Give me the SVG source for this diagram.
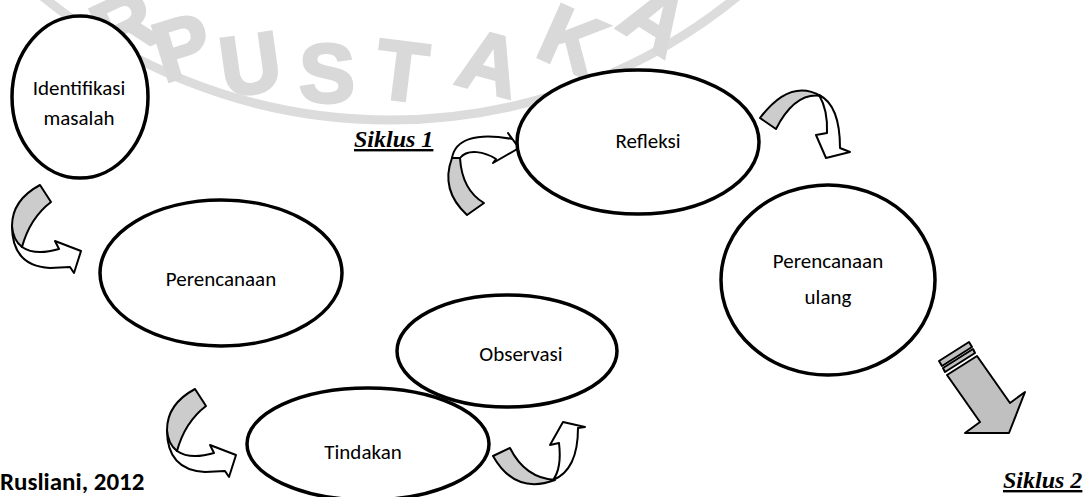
<svg xmlns="http://www.w3.org/2000/svg" xmlns:xlink="http://www.w3.org/1999/xlink" width="1091" height="497" viewBox="0 0 1091 497">
<style>
.wm{font-family:"Liberation Sans",Arial,sans-serif;font-weight:bold;font-size:84px;fill:#d9d9d9;stroke:#d9d9d9;stroke-width:3;text-anchor:middle}
.ring{fill:none;stroke:#dcdcdc;stroke-width:9}
.node{fill:#ffffff;stroke:#000000;stroke-width:3.5}
.lbl{font-family:Carlito,Lato,"Open Sans",sans-serif;font-size:21px;fill:#000;text-anchor:middle}
.cyc{font-family:"Liberation Serif","Times New Roman",serif;font-style:italic;font-weight:bold;font-size:24px;fill:#000;text-decoration:underline}
.src{font-family:Carlito,Lato,"Liberation Sans",sans-serif;font-weight:bold;font-size:25px;fill:#000}
.aw{fill:#ffffff;stroke:#000;stroke-width:2;stroke-linejoin:round}
.ag{fill:#cccccc;stroke:#000;stroke-width:2;stroke-linejoin:round}
.big{fill:#c0c0c0;stroke:#000;stroke-width:2;stroke-linejoin:round}
</style>
<defs>
<g id="curl">
<path class="aw" d="M12,226 Q12,266 50,268 L70,267 L74,273 L81,251 L55,241 L59,249 Q35,256 22,247 Z"/>
<path class="ag" d="M40,185 L51,202 Q30,218 22,247 Q13,240 12,226 Q12,200 40,185 Z"/>
</g>
</defs>
<rect width="1091" height="497" fill="#ffffff"/>
<g id="watermark">
<circle class="ring" cx="390" cy="-430" r="550"/>
<text class="wm" transform="translate(124,24) rotate(-25)" y="30">R</text>
<text class="wm" transform="translate(182,46) rotate(-17)" y="30">P</text>
<text class="wm" transform="translate(250,63) rotate(-8)" y="30">U</text>
<text class="wm" transform="translate(327,72) rotate(0)" y="30">S</text>
<text class="wm" transform="translate(402,70) rotate(7)" y="30">T</text>
<text class="wm" transform="translate(490,62) rotate(15)" y="30">A</text>
<text class="wm" transform="translate(573,40) rotate(24)" y="30">K</text>
<text class="wm" transform="translate(656,18) rotate(32)" y="30">A</text>
</g>
<g id="connectors">
<use xlink:href="#curl" href="#curl"/>
<use xlink:href="#curl" href="#curl" transform="translate(155,204)"/>
<g id="arrow-refleksi-in">
<path class="aw" d="M452,158 C455,140 475,132 512,139 L508,133 L519,148 L493,163 L496,159 C485,152 468,148 460,158 Z"/>
<path class="ag" d="M452,158 Q440,190 467,215 L484,203 Q462,190 460,158 Z"/>
</g>
<g id="arrow-refleksi-out">
<path class="aw" d="M819,95 Q840,105 840,148 L850,152 L826,158 L816,135 L827,133 Q828,110 819,95 Z"/>
<path class="ag" d="M760,118 Q790,78 821,96 Q795,92 776,129 Z"/>
</g>
<g id="arrow-observasi">
<path class="aw" d="M553,480 Q578,470 578,428 L585,427 L563,422 L550,445 L559,443 Q562,468 553,480 Z"/>
<path class="ag" d="M493,456 Q515,495 555,480 Q525,478 510,448 Z"/>
</g>
<g id="arrow-siklus2">
<polygon class="big" points="939,361 969,342 972,347 942,366"/>
<polygon class="big" points="943,368 973,349 975,353 945,372"/>
<polygon class="big" points="947,375 977,356 1010,403 1025,392 1009,433 965,433 980,422"/>
</g>
</g>
<g id="node-identifikasi">
<ellipse class="node" cx="80" cy="97" rx="68" ry="81"/>
<text class="lbl" x="79" y="95">Identifikasi</text>
<text class="lbl" x="79" y="125">masalah</text>
</g>
<g id="node-perencanaan">
<ellipse class="node" cx="221" cy="273" rx="121" ry="73"/>
<text class="lbl" x="221" y="286">Perencanaan</text>
</g>
<g id="node-observasi">
<ellipse class="node" cx="507" cy="351" rx="110" ry="56"/>
<text class="lbl" x="521" y="361">Observasi</text>
</g>
<g id="node-tindakan">
<ellipse class="node" cx="368" cy="444" rx="121" ry="56"/>
<text class="lbl" x="363" y="459">Tindakan</text>
</g>
<g id="node-refleksi">
<ellipse class="node" cx="638" cy="142" rx="121" ry="72"/>
<text class="lbl" x="648" y="148">Refleksi</text>
</g>
<g id="node-perencanaan-ulang">
<ellipse class="node" cx="828" cy="280" rx="107" ry="95"/>
<text class="lbl" x="828" y="268">Perencanaan</text>
<text class="lbl" x="828" y="304">ulang</text>
</g>
<text class="cyc" x="354" y="147">Siklus 1</text>
<text class="cyc" x="1003" y="488">Siklus 2</text>
<text class="src" x="0" y="490">Rusliani, 2012</text>
</svg>
